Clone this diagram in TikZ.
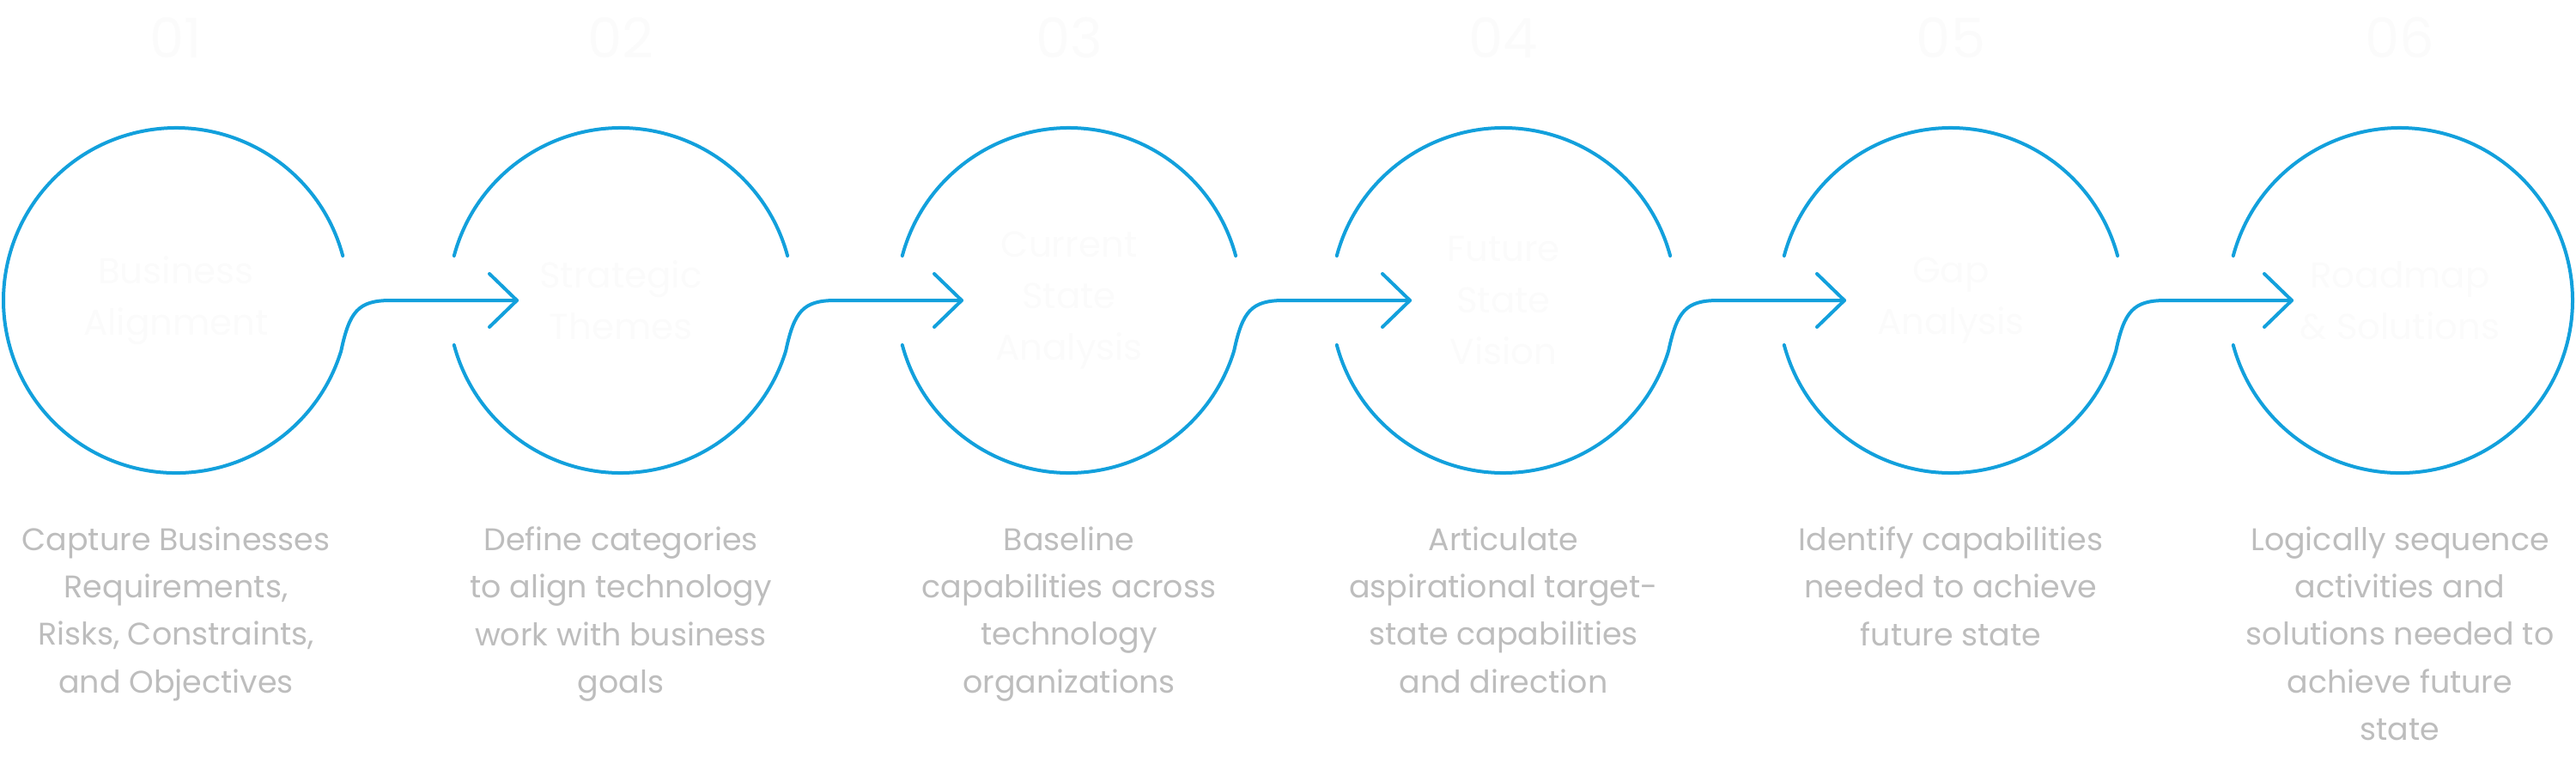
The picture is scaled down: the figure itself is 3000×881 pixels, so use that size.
\documentclass[tikz,border=0pt]{standalone}
\usepackage{fontspec}
\setmainfont{Poppins}
\definecolor{cblue}{HTML}{12A0DC}
\definecolor{tgray}{HTML}{BDBDBD}
\definecolor{ghost}{HTML}{FBFBFB}
\begin{document}
\begin{tikzpicture}[x=0.25pt,y=0.25pt,
  ring/.style={draw=cblue,line width=1pt,line cap=round,line join=round},
  numtext/.style={text=ghost,font=\fontsize{16}{18}\selectfont,anchor=base,inner sep=0pt},
  intext/.style={text=ghost,font=\fontsize{10.5}{15}\selectfont,align=center,inner sep=0pt},
  desc/.style={text=tgray,font=\fontsize{9.1}{13.8}\selectfont,align=center,anchor=north,inner sep=0pt}]
\useasboundingbox (0,0) rectangle (3000,881);
% circle 1
\draw[ring] ({205+194.2},{531+52}) arc[start angle=15,end angle=343,radius=201]
  .. controls ({205+202},518) and ({205+212},531) .. ({205+250},531) -- ({205+397},531);
\draw[ring] ({205+365},{531+31}) -- ({205+397},531) -- ({205+365},{531-31});
% circles 2-5
\foreach \cx in {723,1245,1751,2272}{
  \draw[ring] ({\cx-194.2},{531+52}) arc[start angle=165,end angle=15,radius=201];
  \draw[ring] ({\cx-194.2},{531-52}) arc[start angle=195,end angle=343,radius=201]
    .. controls ({\cx+202},518) and ({\cx+212},531) .. ({\cx+250},531) -- ({\cx+397},531);
  \draw[ring] ({\cx+365},{531+31}) -- ({\cx+397},531) -- ({\cx+365},{531-31});
}
% circle 6
\draw[ring] ({2795-194.2},{531+52}) arc[start angle=165,end angle=-165,radius=201];
% numbers
\node[numtext] (n1) at (205,814) {01};
\node[numtext] (n2) at (723,814) {02};
\node[numtext] (n3) at (1245,814) {03};
\node[numtext] (n4) at (1751,814) {04};
\node[numtext] (n5) at (2272,814) {05};
\node[numtext] (n6) at (2795,814) {06};
% inner texts
\node[intext] (t1) at (205,531) {Business\\Alignment};
\node[intext] (t2) at (723,531) {Strategic\\Themes};
\node[intext] (t3) at (1245,531) {Current\\State\\Analysis};
\node[intext] (t4) at (1751,531) {Future\\State\\Vision};
\node[intext] (t5) at (2272,531) {Gap\\Analysis};
\node[intext] (t6) at (2795,531) {Roadmap\\\& Solutions};
% descriptions
\node[desc] (d1) at (205,268) {Capture Businesses\\Requirements,\\Risks, Constraints,\\and Objectives};
\node[desc] (d2) at (723,268) {Define categories\\to align technology\\work with business\\goals};
\node[desc] (d3) at (1245,268) {Baseline\\capabilities across\\technology\\organizations};
\node[desc] (d4) at (1751,268) {Articulate\\aspirational target-\\state capabilities\\and direction};
\node[desc] (d5) at (2272,268) {Identify capabilities\\needed to achieve\\future state};
\node[desc] (d6) at (2795,268) {Logically sequence\\activities and\\solutions needed to\\achieve future\\state};
\end{tikzpicture}
\end{document}
